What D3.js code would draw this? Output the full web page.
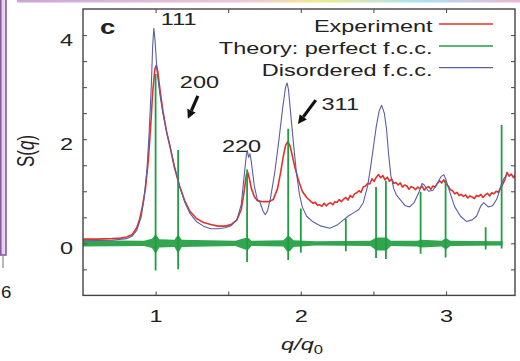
<!DOCTYPE html>
<html><head><meta charset="utf-8">
<script src="https://cdn.jsdelivr.net/npm/d3@7"></script>
<style>body{margin:0;background:#fff} svg{display:block} text{font-family:"Liberation Sans",Arial,sans-serif;fill:#222}</style>
</head><body><svg id="c" width="520" height="361"></svg>
<script>
// ---------- data ----------
const expQ = [0.50,0.60,0.70,0.76,0.80,0.84,0.87,0.89,0.91,0.93,0.95,0.965,0.98,0.995,1.005,1.015,1.03,1.05,1.075,1.10,1.13,1.165,1.20,1.235,1.28,1.33,1.38,1.43,1.48,1.52,1.56,1.59,1.61,1.625,1.635,1.645,1.66,1.68,1.70,1.74,1.78,1.81,1.84,1.86,1.88,1.895,1.91,1.925,1.94,1.96,1.985,2.01,2.04,
 2.07,2.085,2.10,2.115,2.13,2.145,2.16,2.175,2.19,2.205,2.22,2.235,2.25,2.265,2.28,2.295,2.31,2.325,2.34,2.355,2.37,2.385,2.40,2.415,2.43,2.445,2.46,2.475,2.49,2.505,2.52,2.535,2.55,2.565,2.58,2.595,2.61,2.625,2.64,2.655,2.67,2.685,2.70,2.715,2.73,2.745,2.76,2.775,2.79,2.805,2.82,2.835,2.85,2.865,2.88,2.895,2.91,2.925,2.94,2.955,2.97,2.985,3.00,3.015,3.03,3.045,3.06,3.075,3.09,3.105,3.12,3.135,3.15,3.165,3.18,3.195,3.21,3.225,3.24,3.255,3.27,3.285,3.30,3.315,3.33,3.345,3.36,3.375,3.39,3.405,3.42,3.435,3.45,3.465,3.475];
const expS = [0.08,0.08,0.09,0.10,0.12,0.17,0.30,0.46,0.72,1.05,1.60,2.20,2.90,3.35,3.42,3.30,2.95,2.55,2.15,1.85,1.45,1.10,0.82,0.62,0.48,0.40,0.36,0.33,0.33,0.36,0.45,0.65,1.00,1.32,1.36,1.25,1.05,0.90,0.82,0.80,0.80,0.84,1.05,1.35,1.68,1.88,1.95,1.88,1.70,1.45,1.20,1.00,0.88,
 0.80,0.77,0.79,0.73,0.74,0.71,0.77,0.72,0.76,0.78,0.74,0.80,0.79,0.84,0.80,0.85,0.88,0.83,0.92,0.88,0.95,0.97,1.01,0.98,1.08,1.10,1.15,1.14,1.24,1.19,1.27,1.32,1.26,1.30,1.22,1.27,1.19,1.24,1.15,1.17,1.12,1.16,1.08,1.12,1.10,1.04,1.09,1.07,1.03,1.08,1.05,1.10,1.02,1.07,1.09,1.04,1.10,1.08,1.15,1.20,1.16,1.22,1.14,1.10,1.03,1.01,0.95,0.98,0.92,0.94,0.90,0.93,0.87,0.91,0.89,0.86,0.92,0.90,0.94,0.88,0.93,0.96,0.91,0.97,0.95,1.00,0.98,1.06,1.13,1.22,1.36,1.29,1.33,1.26,1.31];

const disQ = [0.50,0.70,0.80,0.84,0.87,0.90,0.92,0.94,0.955,0.97,0.98,0.988,0.996,1.01,1.03,1.05,1.075,1.10,1.13,1.165,1.20,1.235,1.28,1.33,1.38,1.43,1.48,1.52,1.56,1.59,1.61,1.625,1.632,1.64,1.65,1.66,1.68,1.70,1.72,1.74,1.755,1.77,1.79,1.82,1.85,1.875,1.895,1.905,1.915,1.93,1.95,1.97,1.99,2.01,2.04,2.08,2.14,2.20,2.25,2.29,2.33,2.36,2.40,2.43,2.46,2.48,2.50,2.52,2.54,2.557,2.575,2.59,2.605,2.62,2.64,2.66,2.69,2.72,2.75,2.78,2.81,2.835,2.85,2.88,2.91,2.94,2.965,2.985,3.00,3.03,3.06,3.10,3.14,3.18,3.21,3.24,3.26,3.29,3.32,3.35,3.38,3.40,3.42];
const disS = [0.05,0.06,0.09,0.14,0.25,0.50,0.85,1.40,2.10,3.00,3.80,4.13,3.90,3.30,2.85,2.50,2.15,1.85,1.48,1.10,0.80,0.58,0.42,0.33,0.28,0.28,0.30,0.34,0.45,0.75,1.30,1.70,1.78,1.65,1.72,1.55,1.10,0.85,0.78,0.62,0.55,0.62,0.85,1.35,2.00,2.60,3.00,3.08,2.95,2.50,1.90,1.35,0.95,0.70,0.52,0.42,0.33,0.29,0.35,0.44,0.53,0.58,0.65,0.78,1.10,1.45,1.85,2.25,2.55,2.65,2.50,2.20,1.70,1.30,1.05,0.92,0.82,0.72,0.70,0.78,0.96,1.15,1.12,1.00,1.02,1.15,1.28,1.32,1.22,0.95,0.70,0.52,0.42,0.45,0.52,0.72,0.78,0.70,0.72,0.85,1.12,1.25,1.32];

// theory: sharp Bragg spikes (peak top and negative dip) on a noisy band around zero
const theoryPeakQ = [1.000,1.155,1.630,1.913,2.000,2.310,2.518,2.586,2.825,2.997,3.273,3.383];
const theoryPeakS = [3.25,1.79,1.42,2.20,0.67,0.47,1.08,1.20,0.99,1.21,0.31,2.27];
const theoryDipS  = [-0.52,-0.50,-0.36,-0.32,-0.18,-0.15,-0.28,-0.30,-0.20,-0.27,-0.12,-0.10];
const theoryBandQ  = [0.50,0.92,0.975,0.995,1.005,1.025,1.13,1.15,1.16,1.18,1.55,1.615,1.64,1.66,1.88,1.905,1.925,1.95,2.10,2.48,2.52,2.59,2.62,2.80,2.83,2.97,3.00,3.03,3.39];
const theoryBandHi = [0.06,0.05,0.09,0.16,0.16,0.08,0.07,0.15,0.15,0.07,0.05,0.10,0.10,0.05,0.06,0.13,0.13,0.06,0.04,0.05,0.11,0.11,0.05,0.05,0.07,0.05,0.10,0.05,0.04];
const theoryBandLo = [-0.06,-0.05,-0.09,-0.18,-0.18,-0.08,-0.07,-0.17,-0.17,-0.07,-0.05,-0.12,-0.12,-0.05,-0.06,-0.15,-0.15,-0.07,-0.04,-0.05,-0.14,-0.14,-0.05,-0.06,-0.08,-0.06,-0.12,-0.05,-0.04];

const xTickLabels = [1,2,3];
const xMinorTicks = [1.5,2.5];
const yTickLabels = [0,2,4];
const yMinorTicks = [-0.5,0.5,1,1.5,2.5,3,3.5];
const seriesNames = ["Experiment","Theory: perfect f.c.c.","Disordered f.c.c."];
const peakNames = ["111","200","220","311"];

// ---------- drawing ----------
const SX = 1.38;                     // the picture is stretched horizontally
const colExp = "#e2322c", colTh = "#1f9e40", colDis = "#5a5ea6";
const svg = d3.select("#c");
const x = d3.scaleLinear().domain([0.5,3.475]).range([83,515]);
const y = d3.scaleLinear().domain([-1,4.5]).range([295.4,9]);

// decorations from neighbouring panels
const grad = svg.append("defs").append("linearGradient").attr("id","tg");
[["0","#c9a6d6"],["0.45","#eec6da"],["0.6","#f2e98e"],["0.8","#a8e2f2"],["1","#f0b4d4"]].forEach(s=>grad.append("stop").attr("offset",s[0]).attr("stop-color",s[1]));
svg.append("rect").attr("x",17).attr("y",0).attr("width",503).attr("height",2.5).attr("fill","url(#tg)");
svg.append("rect").attr("x",0.8).attr("y",-2).attr("width",5.2).attr("height",257).attr("fill","#e4d4ee").attr("stroke","#8a5a9c").attr("stroke-width",1.6);
svg.append("line").attr("x1",3).attr("x2",3).attr("y1",256).attr("y2",268).attr("stroke","#888").attr("stroke-width",1.2);
svg.append("g").attr("transform",`translate(1,298) scale(1.1,1)`).append("text").attr("text-anchor","start").attr("font-size",17).text("6");

svg.append("clipPath").attr("id","clip").append("rect").attr("x",83).attr("y",9).attr("width",432).attr("height",286.4);
const plot = svg.append("g").attr("clip-path","url(#clip)");

const line = (qs, ss) => d3.line().x((d,i)=>x(qs[i])).y((d,i)=>y(ss[i]))(qs);

// experiment
plot.append("path").attr("d", line(expQ,expS)).attr("fill","none").attr("stroke",colExp).attr("stroke-width",1.6).attr("stroke-linejoin","round");

// theory band
const area = d3.area().x((d,i)=>x(theoryBandQ[i])).y0((d,i)=>y(theoryBandLo[i])).y1((d,i)=>y(theoryBandHi[i]));
plot.append("path").attr("d", area(theoryBandQ)).attr("fill",colTh).attr("opacity",0.92);
// theory spikes
plot.selectAll("line.spk").data(theoryPeakQ).join("line").attr("class","spk")
  .attr("x1",d=>x(d)).attr("x2",d=>x(d))
  .attr("y1",(d,i)=>y(theoryDipS[i])).attr("y2",(d,i)=>y(theoryPeakS[i]))
  .attr("stroke",colTh).attr("stroke-width",1.8);

// disordered
plot.append("path").attr("d", line(disQ,disS)).attr("fill","none").attr("stroke",colDis).attr("stroke-width",1.1).attr("stroke-linejoin","round");

// axes
const tc = "#555";
const styleAxis = g => { g.select(".domain").remove(); g.selectAll("line").attr("stroke",tc).attr("stroke-width",1.1); };
const xAll = xTickLabels.concat(xMinorTicks).sort();
const yAll = yTickLabels.concat(yMinorTicks).sort((a,b)=>a-b);
const gx = svg.append("g").attr("transform",`translate(0,${y(-1)})`)
  .call(d3.axisBottom(x).tickValues(xAll).tickSizeInner(-4).tickSizeOuter(0).tickFormat(d=>xTickLabels.includes(d)?String(d):""))
  .call(styleAxis);
gx.selectAll("text").attr("y",27).attr("dy",0).attr("font-size",17).attr("fill","#222").attr("font-family",null).attr("transform",`scale(${SX},1)`);
svg.append("g").attr("transform",`translate(0,${y(4.5)})`)
  .call(d3.axisTop(x).tickValues(xAll).tickSizeInner(-4).tickSizeOuter(0).tickFormat("")).call(styleAxis);
const gy = svg.append("g").attr("transform",`translate(${x(0.5)},0)`)
  .call(d3.axisLeft(y).tickValues(yAll).tickSizeInner(-4).tickSizeOuter(0).tickFormat(d=>yTickLabels.includes(d)?String(d):""))
  .call(styleAxis);
gy.selectAll("text").attr("x",-10/SX).attr("dy",0).attr("y",10).attr("font-size",17).attr("fill","#222").attr("font-family",null).attr("transform",`scale(${SX},1)`);
svg.append("g").attr("transform",`translate(${x(3.475)},0)`)
  .call(d3.axisRight(y).tickValues(yAll).tickSizeInner(-4).tickSizeOuter(0).tickFormat("")).call(styleAxis);
svg.append("rect").attr("x",x(0.5)).attr("y",y(4.5)).attr("width",x(3.475)-x(0.5)).attr("height",y(-1)-y(4.5))
  .attr("fill","none").attr("stroke","#444").attr("stroke-width",1.4);

// axis titles
const xt = svg.append("g").attr("transform",`translate(302,350) scale(${SX},1)`).append("text").attr("text-anchor","middle").attr("font-size",17);
xt.append("tspan").attr("font-style","italic").text("q/q");
xt.append("tspan").attr("font-size",12).attr("dy",4).text("0");
const yt = svg.append("g").attr("transform",`translate(34,151) scale(${SX},1) rotate(-90)`).append("text").attr("text-anchor","middle").attr("font-size",17);
yt.append("tspan").text("S(");
yt.append("tspan").attr("font-style","italic").text("q");
yt.append("tspan").text(")");

// panel letter and peak labels
const stext = (px,py,str,opts={}) => svg.append("g").attr("transform",`translate(${px},${py}) scale(${SX},1)`)
  .append("text").attr("text-anchor",opts.anchor||"start").attr("font-size",opts.size||17).attr("font-weight",opts.weight||"normal").text(str);
stext(x(0.617), y(4.02), "c", {size:20, weight:"bold"});
stext(x(1.036), y(4.2), peakNames[0]);
stext(x(1.167), y(2.98), peakNames[1]);
stext(x(1.592), y(1.76), peakNames[2], {anchor:"middle"});
stext(x(2.143), y(2.56), peakNames[3]);

// arrows
function arrow(q0,s0,q1,s1){
  const x0=x(q0),y0=y(s0),x1=x(q1),y1=y(s1);
  const a=Math.atan2(y1-y0,x1-x0), L=9, W=4.5;
  const bx=x1-L*Math.cos(a), by=y1-L*Math.sin(a);
  svg.append("line").attr("x1",x0).attr("y1",y0).attr("x2",bx).attr("y2",by).attr("stroke","#111").attr("stroke-width",3.2);
  svg.append("path").attr("d",`M${x1},${y1}L${bx+W*Math.sin(a)},${by-W*Math.cos(a)}L${bx-W*Math.sin(a)},${by+W*Math.cos(a)}Z`).attr("fill","#111");
}
arrow(1.291,2.83,1.222,2.39);
arrow(2.103,2.75,1.98,2.29);

// legend
const cols=[colExp,colTh,colDis], ly=[24,46,67.7], lb=[31.5,53.5,76];
seriesNames.forEach((n,i)=>{
  svg.append("g").attr("transform",`translate(432.5,${lb[i]}) scale(${SX},1)`).append("text").attr("text-anchor","end").attr("font-size",17).text(n);
  svg.append("line").attr("x1",439).attr("x2",493).attr("y1",ly[i]).attr("y2",ly[i]).attr("stroke",cols[i]).attr("stroke-width",1.3);
});
</script></body></html>
